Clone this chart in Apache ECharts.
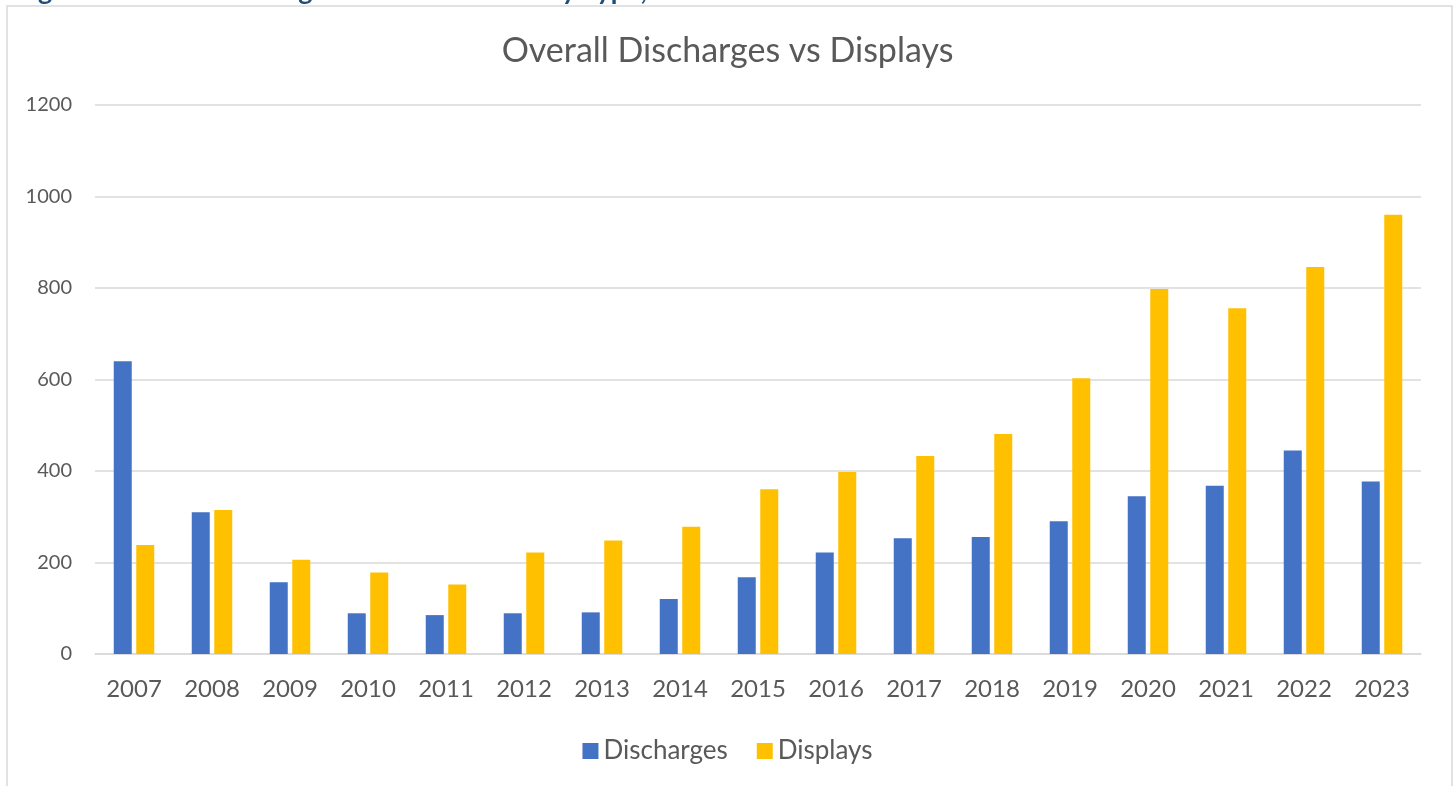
<!DOCTYPE html>
<html>
<head>
<meta charset="utf-8">
<script src="https://cdn.jsdelivr.net/npm/echarts@6/dist/echarts.min.js"></script>
<style>
html,body{margin:0;padding:0;background:#fff;}
#chart{width:1455px;height:786px;}
</style>
</head>
<body>
<div id="chart"></div>
<script>
const years = ['2007','2008','2009','2010','2011','2012','2013','2014','2015','2016','2017','2018','2019','2020','2021','2022','2023'];
const discharges = [640, 310, 157, 89, 85, 89, 91, 120, 168, 222, 253, 256, 290, 345, 368, 445, 377];
const displays = [238, 315, 206, 178, 152, 222, 248, 278, 360, 398, 433, 481, 603, 798, 756, 846, 960];
const yTicks = [0, 200, 400, 600, 800, 1000, 1200];

const FONT = 'Lato';
const chart = echarts.init(document.getElementById('chart'));
chart.setOption({
  animation: false,
  backgroundColor: '#ffffff',
  title: {
    text: 'Overall Discharges vs Displays',
    left: 'center',
    top: 29,
    textStyle: {fontFamily: FONT, fontSize: 34, fontWeight: 'normal', color: '#595959'}
  },
  graphic: [
    {type: 'rect', shape: {x: 7, y: 6, width: 1445, height: 800}, style: {fill: 'none', stroke: '#d9d9d9', lineWidth: 1.5}, silent: true},
    {type: 'text', x: 16, y: -9, style: {text: 'Figure 3: Fireworks Usage Related Incidents by Type, 2007 to 2023', fill: '#1F4E79', font: 'bold 27px Lato', verticalAlign: 'middle', align: 'left'}}
  ],
  legend: {
    data: ['Discharges', 'Displays'],
    left: 'center',
    top: 733,
    itemWidth: 16,
    itemHeight: 16,
    itemGap: 29,
    icon: 'rect',
    textStyle: {fontFamily: FONT, fontSize: 26, color: '#595959'}
  },
  grid: {left: 95, right: 34, top: 105, bottom: 132},
  xAxis: {
    type: 'category',
    data: years,
    axisLine: {lineStyle: {color: '#d9d9d9', width: 1.5}},
    axisTick: {show: false},
    axisLabel: {fontFamily: FONT, fontSize: 24, color: '#595959', margin: 23}
  },
  yAxis: {
    type: 'value',
    min: yTicks[0],
    max: yTicks[yTicks.length - 1],
    interval: 200,
    axisLine: {show: false},
    axisTick: {show: false},
    splitLine: {lineStyle: {color: '#d9d9d9', width: 1.5}},
    axisLabel: {fontFamily: FONT, fontSize: 20, color: '#595959', margin: 23, formatter: v => String(v)}
  },
  series: [
    {name: 'Discharges', type: 'bar', data: discharges, barWidth: 18, barGap: '25%', itemStyle: {color: '#4472C4'}},
    {name: 'Displays', type: 'bar', data: displays, barWidth: 18, barGap: '25%', itemStyle: {color: '#FFC000'}}
  ]
});
</script>
</body>
</html>
